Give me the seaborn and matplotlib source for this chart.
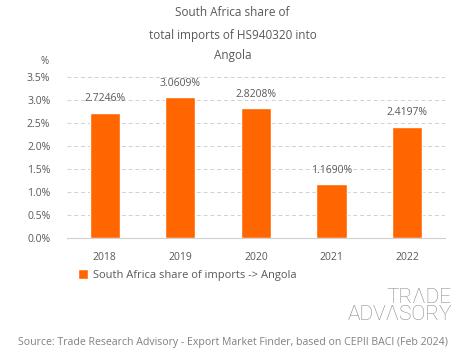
import numpy as np
import pandas as pd
import matplotlib
matplotlib.use("Agg")
import matplotlib.pyplot as plt
import seaborn as sns

years = ["2018", "2019", "2020", "2021", "2022"]
shares = [2.7246, 3.0609, 2.8208, 1.1690, 2.4197]
series_name = "South Africa share of imports -> Angola"

sns.set_style("white")
plt.rcParams['font.family'] = ['Open Sans', 'DejaVu Sans']

orange = "#FF6600"
grey = "#595959"

df = pd.DataFrame({"year": years, "share": shares})

fig = plt.figure(figsize=(4.65, 3.59), dpi=100)
ax = fig.add_axes([0.144, 0.337, 0.813, 0.449])
sns.barplot(data=df, x="year", y="share", color=orange, width=0.4,
            saturation=1, ax=ax, label=series_name)

ax.set_ylim(0, 3.5)
ax.set_yticks(np.arange(0, 3.51, 0.5))
ax.set_yticklabels([f"{v:.1f}%" for v in np.arange(0, 3.51, 0.5)])
ax.yaxis.grid(True, linestyle=(0, (4, 3)), color="#d0d0d0", linewidth=0.7)
ax.set_axisbelow(True)
for s in ["top", "right", "left"]:
    ax.spines[s].set_visible(False)
ax.spines["bottom"].set_color("#d0d0d0")
ax.tick_params(axis="both", length=0, labelsize=7.5, colors=grey, pad=10)
ax.tick_params(axis="y", pad=12)
ax.set_xlabel("")
ax.set_ylabel("")

for i, v in enumerate(shares):
    ax.annotate(f"{v:.4f}%", (i, v), xytext=(0, 6), textcoords="offset points",
                ha="center", va="bottom", fontsize=7.5, color=grey)

fig.text(0.5, 1 - 13 / 359, "South Africa share of", ha="center", va="center", fontsize=8.5, color=grey)
fig.text(0.5, 1 - 35 / 359, "total imports of HS940320 into", ha="center", va="center", fontsize=8.5, color=grey)
fig.text(0.5, 1 - 56 / 359, "Angola", ha="center", va="center", fontsize=8.5, color=grey)
fig.text(45 / 465, 1 - 61 / 359, "%", ha="center", va="center", fontsize=7, color=grey)

ax.legend(loc="upper left", bbox_to_anchor=(0.03, -0.195), frameon=False,
          borderaxespad=0, borderpad=0,
          fontsize=8, labelcolor=grey, handlelength=0.9, handleheight=0.9,
          handletextpad=0.4)

fig.text(452 / 465, 1 - 306 / 359, "TR\u039BDE\nADV\u039BSORY", ha="right", va="center",
         fontsize=15, color="#8a8a8a", linespacing=0.9, fontweight="light",
         family=["Roboto", "DejaVu Sans"])

fig.text(0.5, 1 - 343 / 359,
         "Source: Trade Research Advisory - Export Market Finder, based on CEPII BACI (Feb 2024)",
         ha="center", va="center", fontsize=7.6, color="#808080")

fig.savefig("out.png", dpi=100)
